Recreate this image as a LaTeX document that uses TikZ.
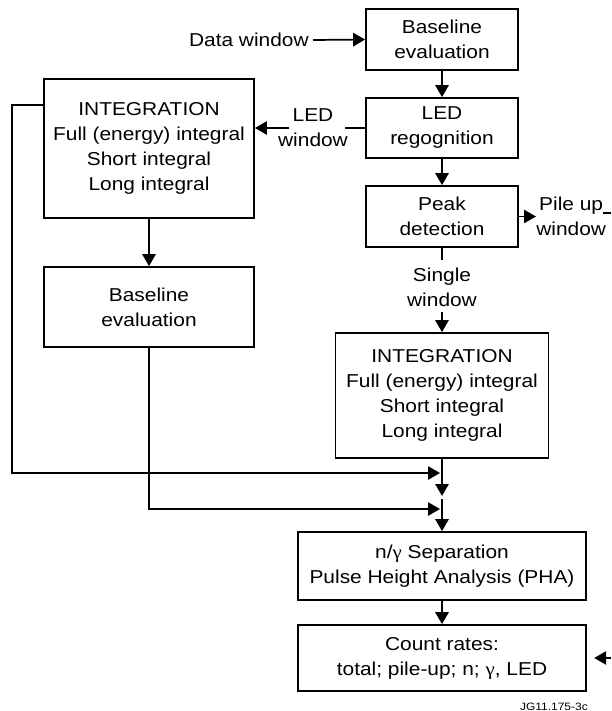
\documentclass[tikz,border=0pt]{standalone}
\usepackage{fontspec}
\setmainfont[FakeStretch=1.12]{Liberation Sans}
\newfontfamily\grk[FakeStretch=1.12]{Liberation Serif}
\usetikzlibrary{arrows.meta}
\begin{document}
\begin{tikzpicture}[x=0.75pt,y=-0.75pt,
  box/.style={draw,line width=1.3pt,align=center,inner sep=0pt,font=\fontsize{14}{18.75}\selectfont},
  sz/.style 2 args={minimum width=#1*0.75pt,minimum height=#2*0.75pt},
  lbl/.style={align=center,inner sep=0pt,font=\fontsize{14}{18.75}\selectfont},
  arr/.style={line width=1.3pt,-{Triangle[length=9pt,width=10pt]}},
  ln/.style={line width=1.3pt}]
\useasboundingbox (0,0) rectangle (611,711);
\fill[white] (0,0) rectangle (611,711);
% boxes
\node[box,sz={152}{61}] (b1) at (442,39.5) {Baseline\\evaluation};
\node[box,sz={152}{60}] (led) at (442,128) {LED\\regognition};
\node[box,sz={152}{61}] (peak) at (442,216.5) {Peak\\detection};
\node[box,sz={213}{125}] (int2) at (442,395.5) {INTEGRATION\\Full (energy) integral\\Short integral\\Long integral};
\node[box,sz={288}{68}] (pha) at (442,566) {n/{\grk γ} Separation\\Pulse Height Analysis (PHA)};
\node[box,sz={288}{66}] (cnt) at (442,658) {Count rates:\\total; pile-up; n; {\grk γ}, LED};
\node[box,sz={210}{139}] (int1) at (149,148.5) {INTEGRATION\\Full (energy) integral\\Short integral\\Long integral};
\node[box,sz={210}{80}] (bl2) at (149,307) {Baseline\\evaluation};
% labels
\node[lbl,anchor=east] (dw) at (309,40) {Data window};
\node[lbl] (lw) at (313,128) {LED\\window};
\node[lbl,anchor=west] (pu) at (536,216.5) {Pile up\\window};
\node[lbl] (sw) at (442,287) {Single\\window};
\node[anchor=east,inner sep=0pt,font=\fontsize{8}{9}\selectfont] (jg) at (588,707) {JG11.175-3c};
% coordinates
\coordinate (lwa) at (289,128);
\coordinate (lwb) at (345,128);
\coordinate (s1) at (603,213);
\coordinate (s2) at (611,213);
\coordinate (sw1) at (442,260);
\coordinate (sw2) at (442,312);
\coordinate (j1) at (442,496);
\coordinate (j2) at (442,499);
\coordinate (c1) at (12,473);
\coordinate (t1) at (440,473);
\coordinate (t2) at (440,509);
\coordinate (r1) at (611,658);
% connectors
\draw[arr] ([xshift=3pt]dw.east) -- (b1.west);
\draw[arr] (b1.south) -- (led.north);
\draw[arr] (led.south) -- (peak.north);
\draw[ln] (led.west) -- (lwb);
\draw[arr] (lwa) -- (int1.east |- lwa);
\draw[arr] (peak.east) -- (pu.west);
\draw[ln] (s1) -- (s2);
\draw[ln] (peak.south) -- (sw1);
\draw[arr] (sw2) -- (int2.north);
\draw[arr] (int1.south) -- (bl2.north);
\draw[arr] (int2.south) -- (j1);
\draw[arr] (j2) -- (pha.north);
\draw[arr] ([yshift=32.6pt]int1.west) -| (c1) -- (t1);
\draw[arr] (bl2.south) |- (t2);
\draw[arr] (pha.south) -- (cnt.north);
\draw[arr] (r1) -- ([xshift=5.5pt]cnt.east);
\end{tikzpicture}
\end{document}
